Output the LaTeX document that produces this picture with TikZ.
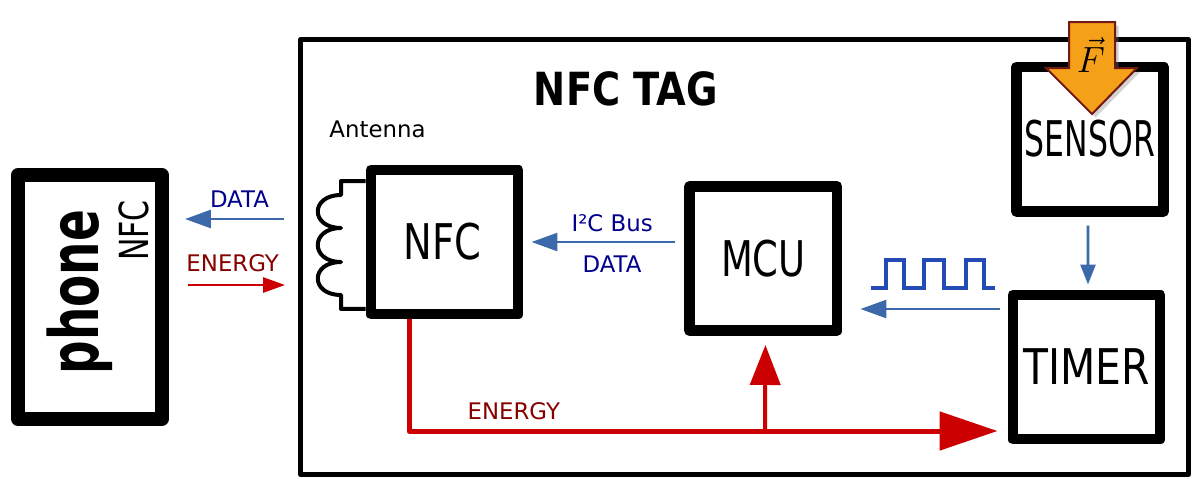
\documentclass[tikz,border=0pt]{standalone}
\usepackage{fontspec}
\usepackage{graphicx}
\setmainfont{DejaVu Sans}
\usepackage{xcolor}
\usepackage{tikz}
\usetikzlibrary{arrows.meta,positioning,shadows}

\definecolor{linkblue}{RGB}{60,105,170}
\definecolor{pulseblue}{RGB}{35,75,180}
\definecolor{labelblue}{RGB}{0,0,140}
\definecolor{labelred}{RGB}{135,0,0}
\definecolor{powerred}{RGB}{204,0,0}
\definecolor{forcefill}{RGB}{245,160,25}
\definecolor{forceedge}{RGB}{115,25,20}
\newcommand{\squeeze}[2]{\scalebox{#1}[1]{#2}}

\begin{document}
\begin{tikzpicture}[
    x=0.02cm, y=-0.02cm,
    block/.style={rectangle, draw, line width=0.21cm, line join=round, minimum width=2.95cm, minimum height=2.89cm, inner sep=0pt, font=\fontsize{28}{30}\selectfont},
    label/.style={font=\fontsize{13}{15}\selectfont},
    datalink/.style={-{Triangle[length=0.52cm, width=0.36cm]}, line width=0.055cm, linkblue},
    powerlink/.style={-{Triangle[length=0.44cm, width=0.3cm]}, line width=0.055cm, powerred}
]
\useasboundingbox (0,0) rectangle (1194,478);

% Tag outline and title
\node[draw, line width=0.1cm, line join=round, minimum width=17.76cm, minimum height=8.7cm, inner sep=0pt] (tag) at (744.5,257) {};
\node[font=\fontsize{26}{28}\selectfont\bfseries, anchor=base] (title) at (626,105) {\squeeze{.84}{NFC TAG}};

% Phone
\node[block, line width=0.28cm, minimum width=2.88cm, minimum height=4.88cm] (phone) at (90,297) {};
\node[rotate=90, anchor=base, font=\fontsize{38.7}{40}\selectfont\bfseries] (phonetext) at (98,292) {\squeeze{.69}{phone}};
\node[rotate=90, anchor=base, font=\fontsize{22.8}{24}\selectfont] (phonenfc) at (148,230.5) {\squeeze{.75}{NFC}};

% Blocks
\node[block] (nfc) at (444.5,242) {\hspace*{-0.08cm}\squeeze{.78}{NFC}};
\node[block, right=3.22cm of nfc, yshift=-0.33cm] (mcu) {\raisebox{-0.14cm}{\squeeze{.75}{MCU}}};
\node[block] (timer) at (1086.5,367) {\raisebox{-0.05cm}{\squeeze{.83}{TIMER}}};
\node[block, above=1.46cm of timer, xshift=0.07cm] (sensor) {\raisebox{-0.09cm}{\squeeze{.64}{SENSOR}}};

% Antenna coil
\node[label, anchor=base] (antenna) at (377.5,137) {Antenna};
\coordinate (coiltop) at (341,195);
\draw[line width=0.08cm, line join=round] ([yshift=1.22cm]nfc.west) -| (coiltop)
    .. controls +(-31,0) and +(-31,0) .. ++(0,33)
    .. controls +(-31,0) and +(-31,0) .. ++(0,34)
    .. controls +(-31,0) and +(-31,0) .. ++(0,33)
    |- ([yshift=-1.34cm]nfc.west);

% Phone link
\coordinate (dataend) at (284,219);
\coordinate (powerstart) at (188,285);
\draw[datalink] (dataend) -- node[label, pos=.45, above=0.08cm, text=labelblue] (datatext) {DATA} ([xshift=0.32cm]dataend -| phone.east);
\draw[powerlink] (powerstart) -- node[label, pos=.46, above=0.12cm, text=labelred] (energytext) {ENERGY} ([xshift=-0.26cm]powerstart -| tag.west);

% Bus
\draw[datalink] ([xshift=-0.18cm, yshift=0.33cm]mcu.west) -- node[label, pos=.44, above=0.06cm, text=labelblue] (bustext) {I²C Bus} node[label, pos=.44, below=0.14cm, text=labelblue] (busdata) {DATA} ([xshift=0.16cm]nfc.east);

% Timer to MCU and the pulses
\coordinate (pulse) at (871,288);
\draw[line width=0.08cm, pulseblue, line join=miter] (pulse) -- ++(15,0) -- ++(0,-28) -- ++(18,0) -- ++(0,28) -- ++(20,0) -- ++(0,-28) -- ++(20,0) -- ++(0,28) -- ++(22,0) -- ++(0,-28) -- ++(18,0) -- ++(0,28) -- ++(11,0);
\draw[datalink] ([xshift=-0.16cm]timer.west |- 0,309) -- ([xshift=0.36cm]mcu.east |- 0,309);

% Sensor to timer
\draw[datalink, -{Triangle[length=0.4cm, width=0.3cm]}] ([xshift=-0.04cm, yshift=-0.18cm]sensor.south) -- ([xshift=0.03cm, yshift=0.1cm]timer.north);

% Energy rails
\draw[-{Triangle[length=1.16cm, width=0.76cm]}, line width=0.1cm, powerred, line join=round] (nfc.south -| 409,0) |- node[label, pos=.589, above=0.06cm, text=labelred] (railtext) {ENERGY} ([xshift=-0.2cm]timer.west |- 0,431);
\draw[-{Triangle[length=0.8cm, width=0.6cm]}, line width=0.08cm, powerred] (765,431) -- ([xshift=0.04cm, yshift=-0.18cm]mcu.south);

% Force
\filldraw[draw=forceedge, fill=forcefill, line width=0.04cm, line join=miter, drop shadow={shadow xshift=0.07cm, shadow yshift=-0.07cm, opacity=.35}] (1069,22) -- (1115,22) -- (1115,68) -- (1137,68) -- (1092,114) -- (1046,68) -- (1069,68) -- cycle;
\node[font=\fontsize{22}{24}\selectfont] (force) at (1091,55) {$\vec{F}$};
\end{tikzpicture}
\end{document}
